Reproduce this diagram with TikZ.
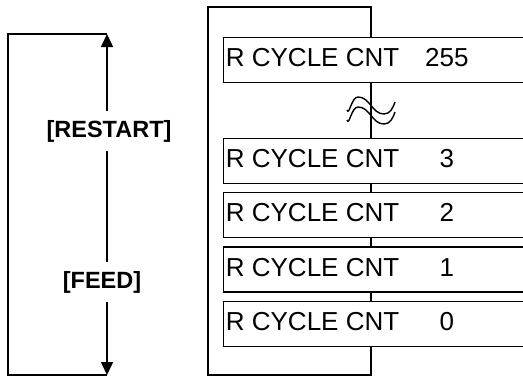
\documentclass[tikz,border=0pt]{standalone}
\usepackage{fontspec}
\setmainfont{Liberation Sans}
\usetikzlibrary{positioning, arrows.meta}

\newcommand{\cyclecnt}[1]{\makebox[320pt][l]{\makebox[221pt][l]{R CYCLE CNT}\makebox[0pt][c]{#1}}}

\begin{document}
\begin{tikzpicture}[
		x=1pt, y=-1pt,                      % Pixel-Koordinaten
		>={Triangle[length=13pt, width=12pt]},
		node distance=8pt,
		every node/.style={font=\fontsize{26}{30}\selectfont},
		cntbox/.style={
			draw,
			fill=white,
			line width=1.2pt,
			minimum height=45pt,
			inner xsep=2.3pt,
			text depth=5pt},
		taste/.style={
			fill=white,
			font=\fontsize{23.5}{28}\selectfont\bfseries,
			inner xsep=1pt,
			minimum height=40pt},
		rahmen/.style={line width=1.6pt},
		welle/.style={line width=1.4pt}
		]
		
		\useasboundingbox (0,0) rectangle (523,378);
		
		% 0. Rahmen rechts
		\draw[rahmen] (208,7) rectangle (371,375);
		
		% 1. Klammer links
		\coordinate (oben) at (107,34);
		\coordinate (unten) at (107,375);
		\draw[rahmen] (oben) -| (8,375) -- (unten);
		\draw[rahmen, <->] (unten) -- (oben);
		
		% 2. Tasten
		\node[taste] (restart) at (109,131) {[RESTART]};
		\node[taste] (feed) at (102,282) {[FEED]};
		
		% 3. Zaehlerstaende
		\node[cntbox, anchor=north west] (c255) at (223,37) {\cyclecnt{255}};
		\node[cntbox, anchor=north west] (c3) at (223,138) {\cyclecnt{3}};
		\node[cntbox] (c2) [below=of c3] {\cyclecnt{2}};
		\node[cntbox] (c1) [below=of c2] {\cyclecnt{1}};
		\node[cntbox] (c0) [below=of c1] {\cyclecnt{0}};
		
		% 4. Auslassung
		\foreach \dy in {0,10}
		\draw[welle, yshift=-\dy pt] (347,110) to[out=-70, in=180] (358,97)
			to[out=0, in=180] (384,114) to[out=0, in=-110] (395,102);
		
	\end{tikzpicture}
\end{document}
